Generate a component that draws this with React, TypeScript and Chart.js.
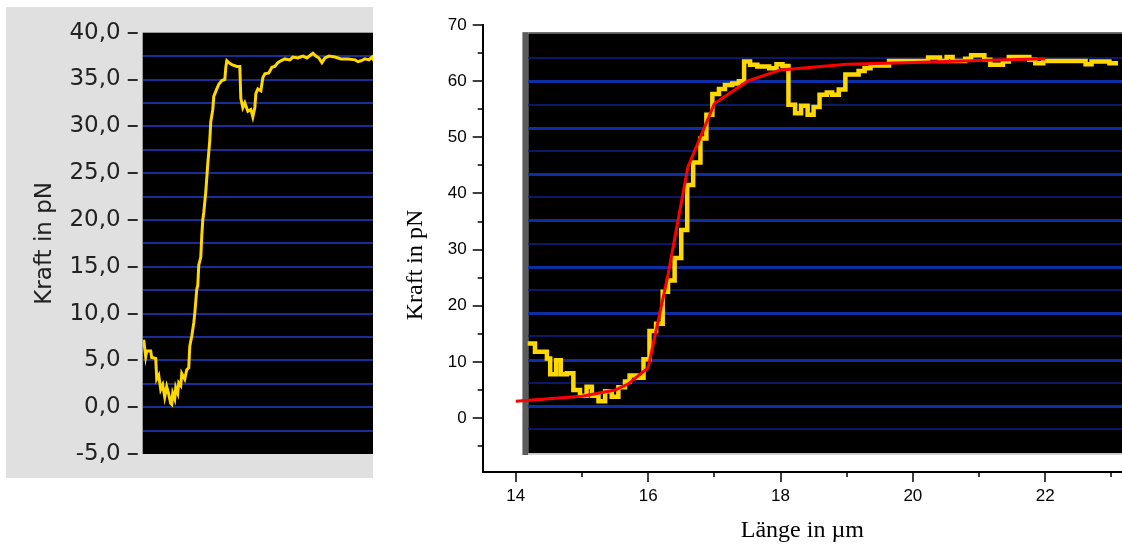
import React, { useEffect, useRef } from 'react';
import { Chart, registerables } from 'chart.js';

Chart.register(...registerables);

// ---------- left panel (LabVIEW screen) ----------
const leftSample = [1, 3, 4, 8, 9, 13, 14, 16, 18, 20, 22, 24, 26, 28, 29, 30, 32, 33, 35, 36, 38, 39, 42, 44, 46, 47, 49, 51, 52, 54, 55, 56, 58, 59, 60, 61, 63, 64, 65, 67, 68, 70, 71, 74, 76, 79, 82, 83, 84, 86, 89, 94, 97, 98, 100, 102, 105, 108, 110, 112, 113, 115, 118, 120, 122, 126, 129, 132, 135, 138, 142, 147, 150, 155, 160, 164, 170, 173, 176, 179, 182, 186, 192, 198, 205, 212, 215, 218, 222, 226, 229, 231];
const leftForce = [7.2, 5.4, 6.0, 6.0, 5.3, 5.2, 3.0, 3.4, 1.9, 2.4, 1.1, 2.2, 1.4, 0.4, 0.3, 1.5, 0.9, 2.1, 1.5, 2.6, 2.3, 3.6, 3.0, 4.0, 4.2, 6.5, 7.6, 9.0, 10.0, 12.6, 13.0, 15.2, 16.0, 18.3, 20.0, 20.8, 23.0, 24.5, 26.0, 28.5, 30.5, 31.8, 33.2, 34.0, 34.5, 34.9, 35.0, 36.3, 37.0, 36.8, 36.6, 36.4, 36.4, 33.0, 32.0, 32.5, 31.6, 31.8, 31.0, 32.0, 33.5, 34.0, 33.8, 35.2, 35.6, 35.7, 36.3, 36.4, 36.8, 37.0, 37.2, 37.1, 37.4, 37.3, 37.5, 37.3, 37.8, 37.5, 37.3, 36.8, 37.3, 37.5, 37.4, 37.2, 37.2, 37.1, 36.9, 37.0, 37.2, 37.1, 37.4, 37.0];
const leftYMin = -5;
const leftYMax = 40;
const leftSampleMax = 230;

// ---------- right panel (Origin plot) ----------
const traceLength = [14.18, 14.29, 14.47, 14.52, 14.61, 14.68, 14.77, 14.87, 14.97, 15.07, 15.15, 15.25, 15.35, 15.45, 15.55, 15.65, 15.72, 15.83, 15.93, 16.02, 16.12, 16.22, 16.30, 16.40, 16.50, 16.59, 16.68, 16.79, 16.88, 16.97, 17.07, 17.16, 17.27, 17.37, 17.45, 17.54, 17.65, 17.83, 17.94, 18.03, 18.12, 18.22, 18.31, 18.41, 18.50, 18.59, 18.70, 18.78, 18.88, 18.98, 19.18, 19.27, 19.36, 19.64, 20.12, 20.23, 20.41, 20.51, 20.60, 20.79, 20.88, 21.08, 21.17, 21.36, 21.45, 21.76, 21.85, 21.97, 22.51, 22.61, 22.70, 22.97, 23.10];
const traceForce = [13.3, 11.8, 10.6, 7.8, 10.3, 7.8, 8.0, 5.0, 4.0, 5.6, 4.0, 3.0, 4.8, 3.8, 5.5, 6.5, 7.6, 7.2, 10.5, 15.5, 16.8, 22.5, 24.5, 28.5, 33.5, 41.5, 45.5, 49.8, 54.0, 57.7, 58.6, 59.3, 59.6, 60.0, 63.5, 62.9, 62.6, 62.3, 63.0, 62.7, 55.8, 54.3, 55.6, 54.0, 55.4, 57.6, 58.0, 57.6, 58.5, 61.2, 61.8, 62.3, 62.8, 63.6, 63.6, 64.2, 63.6, 64.3, 63.6, 64.0, 64.6, 63.8, 62.9, 63.5, 64.3, 63.8, 63.2, 63.6, 63.6, 63.0, 63.5, 63.2, 63.2];
const fitLength = [14.0, 15.0, 15.5, 15.7, 16.0, 16.3, 16.6, 17.0, 17.5, 18.0, 19.0, 20.0, 21.0, 22.0];
const fitForce = [3.0, 3.9, 5.0, 6.1, 9.0, 25.5, 44.7, 56.0, 60.0, 62.0, 63.0, 63.3, 63.7, 64.0];
const xMin = 13.5;
const xMax = 23.16;
const yMin = -9.6;
const yMax = 70;
// embedded screen scale (same units as the left panel)
const screenScaleMin = -7.11;
const screenScaleMax = 41.07;
const screenMajor = [0, 5, 10, 15, 20, 25, 30, 35];
const screenMinor = [-2.5, 2.5, 7.5, 12.5, 17.5, 22.5, 27.5, 32.5, 37.5];
const screenFrameLeft = 14.1;
const screenInnerLeft = 14.19;
const screenFrameTop = 40.3;
const screenInnerTop = 40.1;
const screenInnerBottom = -5.07;
const screenFrameBottom = -5.28;

const YELLOW = '#ffd800';

function zeroPad(s: any) {
  s.paddingTop = 0;
  s.paddingBottom = 0;
  s.paddingLeft = 0;
  s.paddingRight = 0;
}

function LeftPanel() {
  const ref = useRef<HTMLCanvasElement>(null);
  useEffect(() => {
    const deco = {
      id: 'leftDeco',
      beforeDraw(chart: any) {
        const { ctx, chartArea: a } = chart;
        ctx.save();
        ctx.fillStyle = '#000';
        ctx.fillRect(a.left, a.top, a.right - a.left, a.bottom - a.top);
        ctx.restore();
      },
      afterDraw(chart: any) {
        const { ctx, chartArea: a } = chart;
        const ys = chart.scales.y;
        ctx.save();
        ctx.strokeStyle = '#2a2a2a';
        ctx.lineWidth = 2;
        ys.ticks.forEach((t: any) => {
          if (Math.abs(t.value % 5) < 1e-9) {
            const py = Math.round(ys.getPixelForValue(t.value));
            ctx.beginPath();
            ctx.moveTo(a.left - 15, py);
            ctx.lineTo(a.left - 5, py);
            ctx.stroke();
          }
        });
        ctx.restore();
      },
    };
    const chart = new Chart(ref.current as HTMLCanvasElement, {
      type: 'line',
      data: {
        datasets: [
          {
            data: leftSample.map((s, i) => ({ x: s, y: leftForce[i] })),
            borderColor: YELLOW,
            borderWidth: 3,
            pointRadius: 0,
            tension: 0,
          },
        ],
      },
      options: {
        animation: false,
        responsive: false,
        maintainAspectRatio: false,
        layout: { padding: { top: 25.7, right: 0, bottom: 24, left: 0 } },
        plugins: { legend: { display: false }, tooltip: { enabled: false } },
        scales: {
          x: { type: 'linear', min: 0, max: leftSampleMax, display: false },
          y: {
            type: 'linear',
            min: leftYMin,
            max: leftYMax,
            afterFit: (s: any) => {
              s.width = 136.7;
              zeroPad(s);
            },
            ticks: {
              stepSize: 2.5,
              autoSkip: false,
              padding: 22,
              color: '#222',
              font: { family: 'DejaVu Sans', size: 23 },
              callback: (v: any) => (Math.abs(v % 5) < 1e-9 ? Number(v).toFixed(1).replace('.', ',') : ''),
            },
            grid: {
              drawTicks: false,
              lineWidth: 2,
              color: (c: any) =>
                c.tick && (c.tick.value === leftYMin || c.tick.value === leftYMax) ? 'rgba(0,0,0,0)' : '#1a2d96',
            },
            border: { display: false },
            title: {
              display: true,
              text: 'Kraft in pN',
              color: '#222',
              font: { family: 'DejaVu Sans', size: 23 },
              padding: { top: 25, bottom: 0 },
            },
          },
        },
      },
      plugins: [deco],
    } as any);
    return () => chart.destroy();
  }, []);
  return (
    <canvas
      ref={ref}
      width={367}
      height={471}
      style={{ position: 'absolute', left: 6, top: 7, width: 367, height: 471, background: '#e0e0e0' }}
    />
  );
}

function RightPanel() {
  const ref = useRef<HTMLCanvasElement>(null);
  useEffect(() => {
    const deco = {
      id: 'rightDeco',
      beforeDatasetsDraw(chart: any) {
        const { ctx, chartArea: a, scales } = chart;
        const xs = scales.x;
        const ls = scales.yl;
        const barL = xs.getPixelForValue(screenFrameLeft);
        const barR = xs.getPixelForValue(screenInnerLeft);
        const top = ls.getPixelForValue(screenFrameTop);
        const inTop = ls.getPixelForValue(screenInnerTop);
        const inBot = ls.getPixelForValue(screenInnerBottom);
        const bot = ls.getPixelForValue(screenFrameBottom);
        ctx.save();
        ctx.fillStyle = '#5c5c5c';
        ctx.fillRect(barL, top, barR - barL, bot - top);
        ctx.fillRect(barR, top, a.right - barR, inTop - top);
        ctx.fillStyle = '#d4d4d4';
        ctx.fillRect(barR, inBot, a.right - barR, bot - inBot);
        ctx.fillStyle = '#000';
        ctx.fillRect(barR, inTop, a.right - barR, inBot - inTop);
        ctx.strokeStyle = '#0b1868';
        ctx.lineWidth = 2;
        screenMinor.forEach((v) => {
          const py = Math.round(ls.getPixelForValue(v));
          ctx.beginPath();
          ctx.moveTo(barR, py);
          ctx.lineTo(a.right, py);
          ctx.stroke();
        });
        ctx.strokeStyle = '#0d2ea4';
        ctx.lineWidth = 3;
        screenMajor.forEach((v) => {
          const py = Math.round(ls.getPixelForValue(v)) + 0.5;
          ctx.beginPath();
          ctx.moveTo(barR, py);
          ctx.lineTo(a.right, py);
          ctx.stroke();
        });
        ctx.restore();
      },
      afterDraw(chart: any) {
        const { ctx, chartArea: a, scales } = chart;
        const xs = scales.x;
        const ys = scales.y;
        ctx.save();
        ctx.strokeStyle = '#000';
        ctx.lineWidth = 1.5;
        xs.ticks.forEach((t: any) => {
          const px = Math.round(xs.getPixelForValue(t.value));
          const len = Math.abs(t.value % 2) < 1e-9 ? 10 : 5;
          ctx.beginPath();
          ctx.moveTo(px, a.bottom);
          ctx.lineTo(px, a.bottom + len);
          ctx.stroke();
        });
        ys.ticks.forEach((t: any) => {
          const py = Math.round(ys.getPixelForValue(t.value));
          const len = Math.abs(t.value % 10) < 1e-9 ? 10 : 5;
          ctx.beginPath();
          ctx.moveTo(a.left - len, py);
          ctx.lineTo(a.left, py);
          ctx.stroke();
        });
        // y axis title
        ctx.translate(16, 265);
        ctx.rotate(-Math.PI / 2);
        ctx.fillStyle = '#000';
        ctx.font = '24px "Liberation Serif"';
        ctx.textAlign = 'center';
        ctx.textBaseline = 'middle';
        ctx.fillText('Kraft in pN', 0, 0);
        ctx.restore();
      },
    };
    const chart = new Chart(ref.current as HTMLCanvasElement, {
      type: 'line',
      data: {
        datasets: [
          {
            data: fitLength.map((x, i) => ({ x, y: fitForce[i] })),
            borderColor: '#ff0000',
            borderWidth: 3,
            pointRadius: 0,
            tension: 0,
            order: 0,
          },
          {
            data: traceLength.map((x, i) => ({ x, y: traceForce[i] })),
            borderColor: YELLOW,
            borderWidth: 4.5,
            pointRadius: 0,
            stepped: true,
            borderCapStyle: 'butt',
            borderJoinStyle: 'miter',
            order: 1,
          },
        ],
      },
      options: {
        animation: false,
        responsive: false,
        maintainAspectRatio: false,
        layout: { padding: { top: 25, right: 0, bottom: 0, left: 0 } },
        plugins: { legend: { display: false }, tooltip: { enabled: false } },
        scales: {
          x: {
            type: 'linear',
            min: xMin,
            max: xMax,
            afterFit: (s: any) => {
              s.height = 73;
              zeroPad(s);
            },
            ticks: {
              stepSize: 1,
              includeBounds: false,
              autoSkip: false,
              maxRotation: 0,
              padding: 14,
              color: '#000',
              font: { family: 'Liberation Sans', size: 17 },
              callback: (v: any) => (Math.abs(v % 2) < 1e-9 ? String(v) : ''),
            },
            grid: { display: false, drawTicks: false },
            border: { display: true, color: '#000', width: 2 },
            title: {
              display: true,
              text: 'Länge in µm',
              color: '#000',
              font: { family: 'Liberation Serif', size: 24 },
              padding: { top: 0, bottom: 0 },
            },
          },
          y: {
            type: 'linear',
            min: yMin,
            max: yMax,
            afterFit: (s: any) => {
              s.width = 82.7;
              zeroPad(s);
            },
            ticks: {
              stepSize: 5,
              includeBounds: false,
              autoSkip: false,
              padding: 16,
              color: '#000',
              font: { family: 'Liberation Sans', size: 17 },
              callback: (v: any) => (Math.abs(v % 10) < 1e-9 ? String(v) : ''),
            },
            grid: { display: false, drawTicks: false },
            border: { display: true, color: '#000', width: 2 },
          },
          yl: { type: 'linear', display: false, min: screenScaleMin, max: screenScaleMax },
        },
      },
      plugins: [deco],
    } as any);
    return () => chart.destroy();
  }, []);
  return (
    <canvas
      ref={ref}
      width={722}
      height={545}
      style={{ position: 'absolute', left: 400, top: 0, width: 722, height: 545 }}
    />
  );
}

export default function App() {
  return (
    <div style={{ position: 'absolute', left: 0, top: 0, width: 1122, height: 545, background: '#fff', overflow: 'hidden' }}>
      <LeftPanel />
      <RightPanel />
    </div>
  );
}
